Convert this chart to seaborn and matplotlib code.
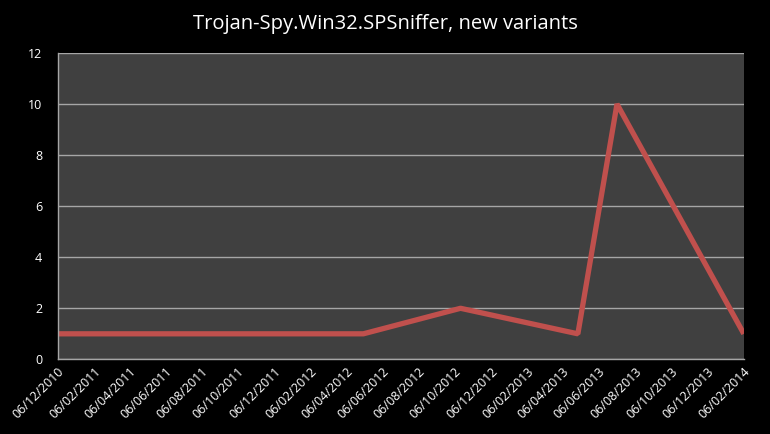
import pandas as pd
import matplotlib.pyplot as plt
import matplotlib.dates as mdates
import seaborn as sns

plt.switch_backend('Agg')

# data
dates = ['2010-12-06', '2012-05-05', '2012-10-16', '2013-05-02', '2013-07-07', '2014-02-06']
variants = [1, 1, 2, 1, 10, 1]

tick_dates = ['2010-12-06', '2011-02-06', '2011-04-06', '2011-06-06', '2011-08-06',
              '2011-10-06', '2011-12-06', '2012-02-06', '2012-04-06', '2012-06-06',
              '2012-08-06', '2012-10-06', '2012-12-06', '2013-02-06', '2013-04-06',
              '2013-06-06', '2013-08-06', '2013-10-06', '2013-12-06', '2014-02-06']
y_ticks = [0, 2, 4, 6, 8, 10, 12]

df = pd.DataFrame({'date': pd.to_datetime(dates), 'variants': variants})

sns.set_style('dark')
plt.rcParams['font.family'] = ['Open Sans', 'DejaVu Sans']

fig = plt.figure(figsize=(7.7, 4.34), dpi=100, facecolor='black')
ax = fig.add_axes([0.0747, 0.172, 0.8913, 0.706])
ax.set_facecolor('#404040')

sns.lineplot(data=df, x='date', y='variants', ax=ax, color='#c0504d', linewidth=3.8)
for ln in ax.get_lines():
    ln.set_solid_capstyle('butt')
    ln.set_solid_joinstyle('bevel')

ticks = pd.to_datetime(tick_dates)
ax.set_xlim(ticks[0], ticks[-1])
ax.set_xticks(ticks)
ax.xaxis.set_major_formatter(mdates.DateFormatter('%d/%m/%Y'))
ax.set_ylim(0, 12)
ax.set_yticks(y_ticks)

ax.grid(axis='y', color='#a6a6a6', linewidth=1)
ax.grid(axis='x', visible=False)
ax.set_axisbelow(True)

for side in ['top', 'right']:
    ax.spines[side].set_visible(False)
for side in ['left', 'bottom']:
    ax.spines[side].set_visible(True)
    ax.spines[side].set_color('#a6a6a6')
    ax.spines[side].set_linewidth(1)

ax.tick_params(axis='both', length=0, colors='white', labelsize=9)
ax.tick_params(axis='y', pad=11)
ax.tick_params(axis='x', pad=4)
plt.setp(ax.get_xticklabels(), rotation=45, ha='right', rotation_mode='anchor')

ax.set_xlabel('')
ax.set_ylabel('')
fig.suptitle('Trojan-Spy.Win32.SPSniffer, new variants', color='white',
             fontsize=14.5, x=0.5, y=0.967)

plt.savefig('out.png', dpi=100, facecolor='black')
plt.close()
